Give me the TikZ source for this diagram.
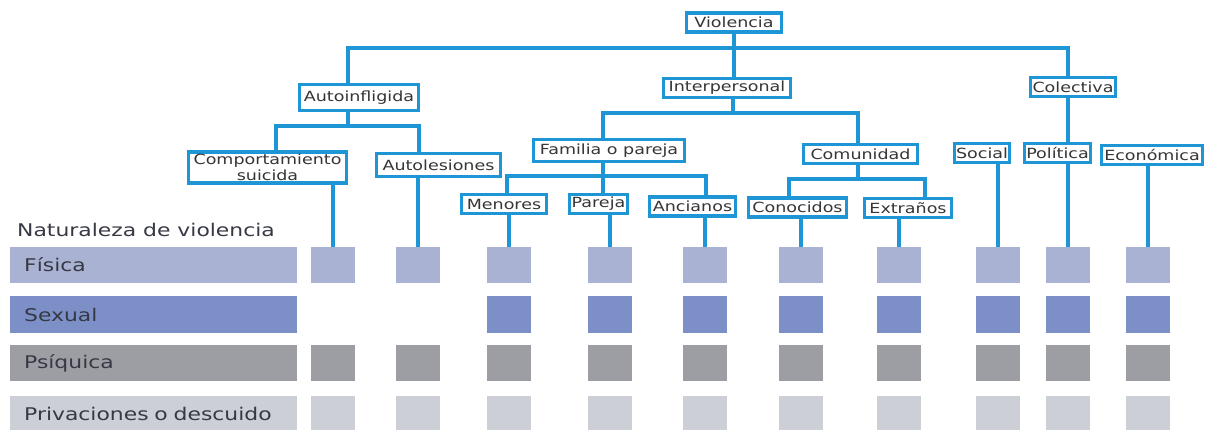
\documentclass[tikz,border=0pt]{standalone}
\usepackage{fontspec}
\setmainfont[FakeStretch=1.25]{DejaVu Sans}
\definecolor{linkblue}{HTML}{1E96D6}
\definecolor{boxtext}{HTML}{363636}
\definecolor{bartext}{HTML}{363844}
\definecolor{cfisica}{HTML}{A9B2D2}
\definecolor{csexual}{HTML}{7C90C7}
\definecolor{cpsiquica}{HTML}{9D9EA4}
\definecolor{cprivacion}{HTML}{CDCFD6}

\begin{document}
\begin{tikzpicture}[x=1pt, y=-1pt,
    box/.style={draw=linkblue, line width=3.2pt, fill=white, text=boxtext,
      font=\fontsize{14}{16}\selectfont, inner xsep=4pt, inner ysep=1pt, minimum height=19pt},
    link/.style={draw=linkblue, line width=3.2pt},
    cell/.style={minimum width=44pt, minimum height=36pt, inner sep=0pt},
    bar/.style={anchor=west, minimum height=36pt, text width=259pt, inner xsep=14pt,
      inner ysep=0pt, align=left, text=bartext, font=\fontsize{17.5}{20}\selectfont}]
    \useasboundingbox (0,0) rectangle (1207,430);

    \node[box, inner xsep=8pt] (viol) at (734,22.5) {Violencia};
    \node[box, minimum height=26pt] (auto) at (359,97.5) {Autoinfligida};
    \node[box, inner xsep=5.5pt] (inter) at (727,88) {Interpersonal};
    \node[box, inner xsep=2pt] (cole) at (1073,87) {Colectiva};
    \node[box, inner xsep=5pt, inner ysep=2pt, align=center] (comp) at (267.5,167.5) {Comportamiento\\suicida};
    \node[box, inner xsep=6pt, minimum height=23pt] (lesi) at (438.5,165) {Autolesiones};
    \node[box, inner xsep=6.5pt, minimum height=22pt] (fami) at (609,150.5) {Familia o pareja};
    \node[box, inner xsep=7pt] (comu) at (860.5,154) {Comunidad};
    \node[box, inner xsep=1.5pt] (soci) at (982,153) {Social};
    \node[box, inner xsep=1.5pt] (poli) at (1057.5,153) {Política};
    \node[box, inner xsep=2.5pt] (econ) at (1152,155) {Económica};
    \node[box, inner xsep=5pt] (meno) at (504,204) {Menores};
    \node[box, inner xsep=2.5pt] (pare) at (598.5,204) {Pareja};
    \node[box, inner xsep=3.5pt] (anci) at (692.5,206.5) {Ancianos};
    \node[box] (cono) at (797.5,207.5) {Conocidos};
    \node[box, inner xsep=5pt] (extr) at (908,208) {Extraños};

    \coordinate (b0) at (734,48);
    \coordinate (b1) at (348,126);
    \coordinate (b2) at (733,113);
    \coordinate (b3) at (603,176);
    \coordinate (b4) at (858,179);

    \draw[link] (viol) -- (viol.south |- inter.north);
    \draw[link] ([xshift=-11pt]auto.north) |- (b0) -| ([xshift=-5pt]cole.north);
    \draw[link] ([xshift=-11pt]auto.south) -- (b1);
    \draw[link] ([xshift=8.5pt]comp.north) |- (b1) -| ([xshift=-19.5pt]lesi.north);
    \draw[link] (inter.south -| b2) -- (b2);
    \draw[link] ([xshift=-6pt]fami.north) |- (b2) -| ([xshift=-2.5pt]comu.north);
    \draw[link] (fami.south -| b3) -- (pare.north -| b3);
    \draw[link] ([xshift=3pt]meno.north) |- (b3) -| ([xshift=13.5pt]anci.north);
    \draw[link] (comu.south -| b4) -- (b4);
    \draw[link] ([xshift=-8.5pt]cono.north) |- (b4) -| ([xshift=17pt]extr.north);
    \draw[link] ([xshift=-5pt]cole.south) -- ([xshift=10.5pt]poli.north);

    \node[anchor=base west, inner sep=0pt, text=bartext, font=\fontsize{17.5}{20}\selectfont] (title) at (17,237) {Naturaleza de violencia};
    \node[bar, fill=cfisica] (fisica) at (10,265) {Física};
    \node[bar, fill=csexual] (sexual) at (10,314.5) {Sexual};
    \node[bar, fill=cpsiquica] (psiquica) at (10,363) {Psíquica};
    \node[bar, fill=cprivacion] (privacion) at (10,414) {Privaciones o descuido};

    \foreach \x [count=\i] in {333,418,509,610,705,801,899,998,1068,1148} {
        \node[cell, fill=cfisica] (f\i) at (\x,265) {};
        \node[cell, fill=cpsiquica] (p\i) at (\x,363) {};
        \node[cell, fill=cprivacion] (d\i) at (\x,414) {};
    }
    \foreach \x [count=\i from 3] in {509,610,705,801,899,998,1068,1148}
        \node[cell, fill=csexual] (s\i) at (\x,314.5) {};

    \foreach \b/\i in {comp/1,lesi/2,meno/3,pare/4,anci/5,cono/6,extr/7,soci/8,poli/9,econ/10}
        \draw[link] (f\i.north |- \b.south) -- (f\i.north);
\end{tikzpicture}
\end{document}
